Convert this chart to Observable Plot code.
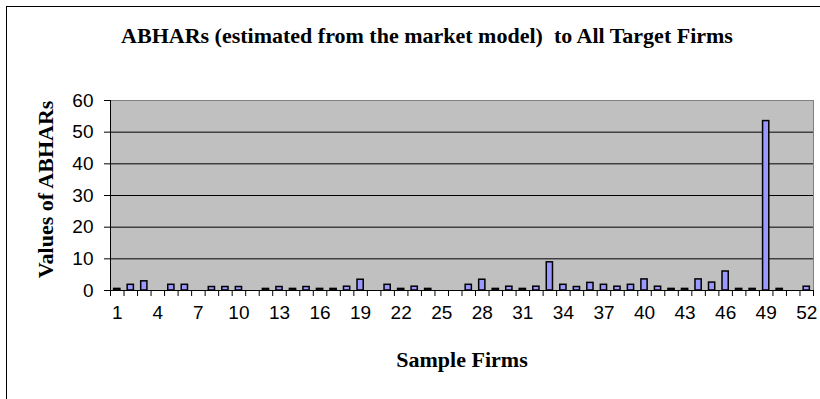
<!DOCTYPE html>
<html>
<head>
<meta charset="utf-8">
<script src="https://cdn.jsdelivr.net/npm/d3@7"></script>
<script src="https://cdn.jsdelivr.net/npm/@observablehq/plot@0.6"></script>
<style>
  html, body { margin: 0; padding: 0; background: #fff; }
  #chart { position: relative; width: 820px; height: 399px; overflow: hidden; background: #fff; }
  #chart svg text { white-space: pre; }
  #outline { position: absolute; left: 6px; top: 6px; width: 900px; height: 500px;
             border: 1.5px solid #000; pointer-events: none; }
</style>
</head>
<body>
<div id="chart"><div id="outline"></div></div>
<script>
// Sample firm numbers and their ABHAR values (market-model estimates)
const firms = [1,2,3,4,5,6,7,8,9,10,11,12,13,14,15,16,17,18,19,20,21,22,23,24,25,26,
               27,28,29,30,31,32,33,34,35,36,37,38,39,40,41,42,43,44,45,46,47,48,49,50,51,52];
const abhars = [0.5,1.8,2.9,0,1.8,1.8,0,1.1,1.1,1.1,0,0.5,1.1,0.5,1.1,0.5,0.5,1.2,3.4,0,
                1.8,0.5,1.2,0.5,0,0,1.8,3.4,0.5,1.2,0.5,1.2,8.9,1.8,1.1,2.4,1.8,1.2,1.8,3.5,
                1.2,0.5,0.5,3.5,2.5,6.0,0.5,0.5,53.5,0.5,0,1.2];
const xTickLabels = [1,4,7,10,13,16,19,22,25,28,31,34,37,40,43,46,49,52];
const yTicks = [0,10,20,30,40,50,60];

const titleText = "ABHARs (estimated from the market model)  to All Target Firms";
const xTitle = "Sample Firms";
const yTitle = "Values of ABHARs";

const rows = firms.map((f, i) => ({firm: f, value: abhars[i]}));
// category boundaries carry the x-axis tick marks
const boundaries = [firms[0] - 0.5, ...firms.map(f => f + 0.5)];
const half = 0.23; // half bar width, in category units

const serif = "'Liberation Serif', 'Times New Roman', serif";
const sans = "'Liberation Sans', Arial, sans-serif";

const chart = Plot.plot({
  width: 820,
  height: 399,
  marginLeft: 110,
  marginRight: 7,
  marginTop: 100,
  marginBottom: 109,
  style: {background: "transparent", fontFamily: sans, fontSize: "19px", color: "#000"},
  x: {type: "linear", domain: [firms[0] - 0.5, firms[firms.length - 1] + 0.5]},
  y: {domain: [0, 60]},
  marks: [
    Plot.frame({fill: "#c0c0c0", stroke: "#808080"}),
    Plot.ruleY(yTicks.filter(t => t > 0 && t < 60), {stroke: "#000", strokeWidth: 1}),
    Plot.rectY(rows.filter(d => d.value > 0), {
      x1: d => d.firm - half, x2: d => d.firm + half, y1: 0, y2: "value",
      fill: "#9999ff", stroke: "#000", strokeWidth: 1.5
    }),
    Plot.ruleX([firms[0] - 0.5], {stroke: "#000"}),
    Plot.ruleY([0], {stroke: "#000"}),
    Plot.axisY({ticks: yTicks, tickSize: 6, tickPadding: 11, label: null,
                fontSize: 19, fontFamily: sans, stroke: "#000"}),
    Plot.axisX({ticks: boundaries, tickSize: 6, tickFormat: () => "", label: null, stroke: "#000"}),
    Plot.axisX({ticks: xTickLabels, tickSize: 0, tickPadding: 15, label: null,
                fontSize: 19, fontFamily: sans}),
    Plot.text([titleText], {text: d => d, frameAnchor: "top", dx: -35, dy: -65,
               fontFamily: serif, fontWeight: "bold", fontSize: 22, lineAnchor: "middle", fill: "#000"}),
    Plot.text([xTitle], {text: d => d, frameAnchor: "bottom", dy: 69,
               fontFamily: serif, fontWeight: "bold", fontSize: 22, lineAnchor: "middle", fill: "#000"}),
    Plot.text([yTitle], {text: d => d, frameAnchor: "left", dx: -65, dy: -6, rotate: -90,
               textAnchor: "middle", fontFamily: serif, fontWeight: "bold", fontSize: 22,
               lineAnchor: "middle", fill: "#000"})
  ]
});

document.getElementById("chart").prepend(chart);
</script>
</body>
</html>
